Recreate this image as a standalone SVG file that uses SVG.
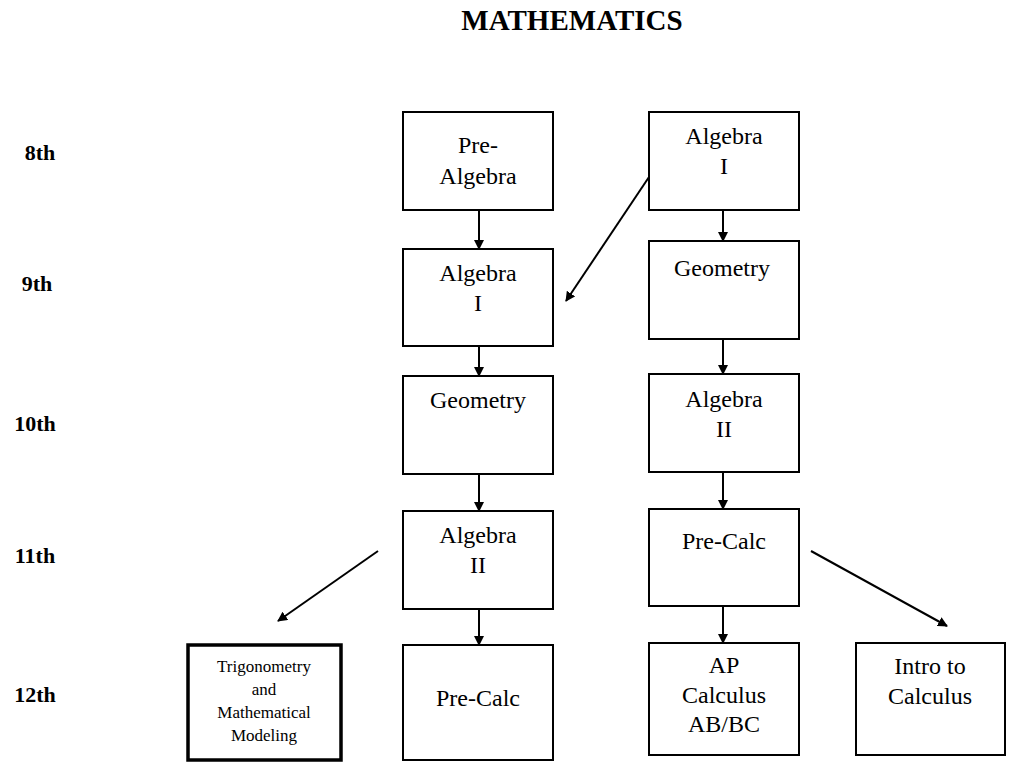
<svg xmlns="http://www.w3.org/2000/svg" width="1024" height="768" viewBox="0 0 1024 768">
<style>
.b{fill:#fff;stroke:#000;stroke-width:2}
.t{font-family:"Liberation Serif",serif;font-size:24px;text-anchor:middle;fill:#000}
.g{font-family:"Liberation Serif",serif;font-size:22px;font-weight:bold;text-anchor:middle}
.c line{stroke:#000;stroke-width:2;marker-end:url(#a)}
</style>
<defs><marker id="a" markerWidth="10" markerHeight="10" refX="9" refY="5" orient="auto" markerUnits="userSpaceOnUse"><path d="M0,0L10,5L0,10z"/></marker></defs>
<rect width="1024" height="768" fill="#fff"/>
<text x="572" y="30" class="g" style="font-size:29px">MATHEMATICS</text>
<text x="40" y="160" class="g">8th</text>
<text x="37" y="291" class="g">9th</text>
<text x="35" y="431" class="g">10th</text>
<text x="35" y="563" class="g">11th</text>
<text x="35" y="702" class="g">12th</text>
<g id="n1"><rect class="b" x="403" y="112" width="150" height="98"/><text class="t" x="478" y="153">Pre-</text><text class="t" x="478" y="184">Algebra</text></g>
<g id="n2"><rect class="b" x="403" y="249" width="150" height="97"/><text class="t" x="478" y="281">Algebra</text><text class="t" x="478" y="311">I</text></g>
<g id="n3"><rect class="b" x="403" y="376" width="150" height="98"/><text class="t" x="478" y="408">Geometry</text></g>
<g id="n4"><rect class="b" x="403" y="511" width="150" height="98"/><text class="t" x="478" y="543">Algebra</text><text class="t" x="478" y="573">II</text></g>
<g id="n5"><rect class="b" x="403" y="645" width="150" height="115"/><text class="t" x="478" y="706">Pre-Calc</text></g>
<g id="n6"><rect class="b" x="649" y="112" width="150" height="98"/><text class="t" x="724" y="144">Algebra</text><text class="t" x="724" y="174">I</text></g>
<g id="n7"><rect class="b" x="649" y="241" width="150" height="98"/><text class="t" x="722" y="276">Geometry</text></g>
<g id="n8"><rect class="b" x="649" y="374" width="150" height="98"/><text class="t" x="724" y="407">Algebra</text><text class="t" x="724" y="437">II</text></g>
<g id="n9"><rect class="b" x="649" y="509" width="150" height="97"/><text class="t" x="724" y="549">Pre-Calc</text></g>
<g id="n10"><rect class="b" x="649" y="643" width="150" height="112"/><text class="t" x="724" y="673">AP</text><text class="t" x="724" y="703">Calculus</text><text class="t" x="724" y="732">AB/BC</text></g>
<g id="n11"><rect class="b" x="856" y="643" width="149" height="112"/><text class="t" x="930" y="674">Intro to</text><text class="t" x="930" y="704">Calculus</text></g>
<g id="n12"><rect class="b" x="188" y="645" width="153" height="115" style="stroke-width:3.5"/><text class="t" style="font-size:17px" x="264" y="672">Trigonometry</text><text class="t" style="font-size:17px" x="264" y="695">and</text><text class="t" style="font-size:17px" x="264" y="718">Mathematical</text><text class="t" style="font-size:17px" x="264" y="741">Modeling</text></g>
<g class="c">
<line x1="479" y1="210" x2="479" y2="249"/>
<line x1="479" y1="346" x2="479" y2="376"/>
<line x1="479" y1="474" x2="479" y2="511"/>
<line x1="479" y1="609" x2="479" y2="645"/>
<line x1="723" y1="210" x2="723" y2="241"/>
<line x1="723" y1="339" x2="723" y2="374"/>
<line x1="723" y1="472" x2="723" y2="509"/>
<line x1="723" y1="606" x2="723" y2="643"/>
<line x1="649" y1="177" x2="566" y2="301"/>
<line x1="378" y1="551" x2="278" y2="621"/>
<line x1="811" y1="551" x2="947" y2="626"/>
</g>
</svg>
